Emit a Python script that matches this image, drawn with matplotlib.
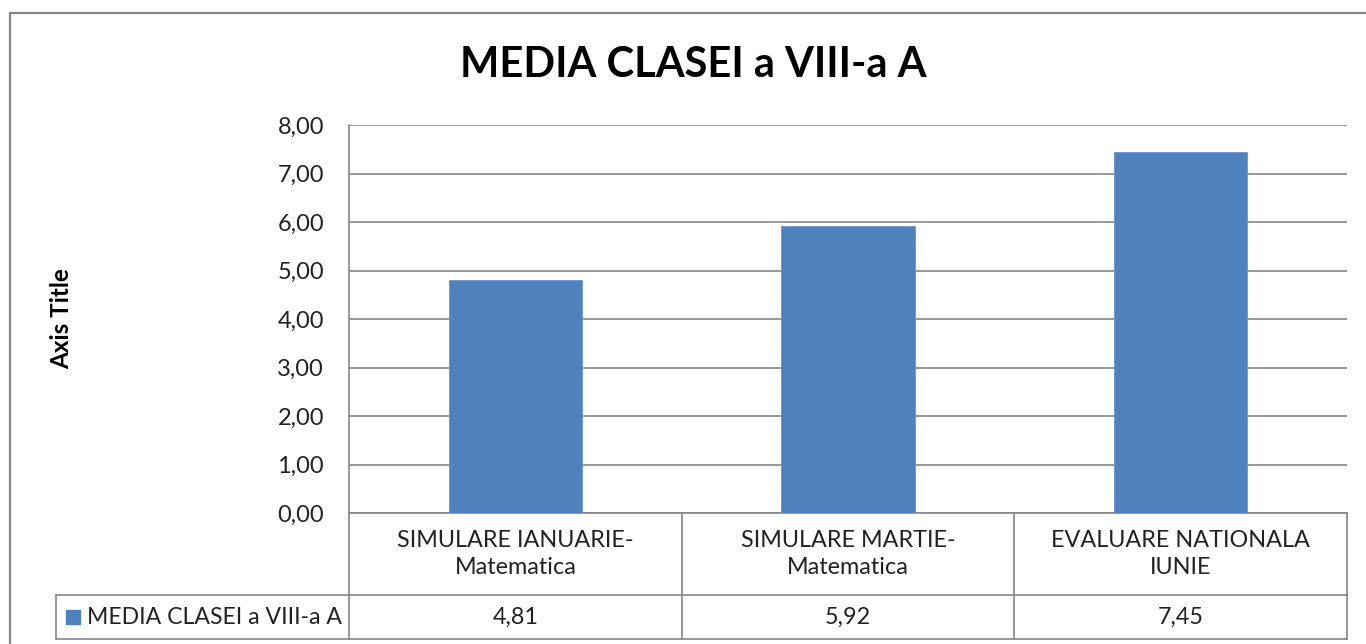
import matplotlib.pyplot as plt
from matplotlib.patches import Rectangle
from matplotlib.transforms import blended_transform_factory

# date
categorii = ["SIMULARE IANUARIE-\nMatematica", "SIMULARE MARTIE-\nMatematica", "EVALUARE NATIONALA\nIUNIE"]
medii = [4.81, 5.92, 7.45]
serie = "MEDIA CLASEI a VIII-a A"
titlu = "MEDIA CLASEI a VIII-a A"
y_ticks = [0, 1, 2, 3, 4, 5, 6, 7, 8]

culoare = "#4F81BD"
gri = "#868686"
W, H = 1366, 644

plt.rcParams['font.family'] = ['Lato', 'DejaVu Sans']

fig = plt.figure(figsize=(W / 100, H / 100), dpi=100)
fig.patch.set_facecolor("white")

# chenarul exterior
fig.add_artist(Rectangle((10 / W, -0.05), 1.2, 1 - 13 / H + 0.05, transform=fig.transFigure,
                         fill=False, edgecolor=gri, linewidth=1.6))

ax = fig.add_axes([349 / W, 1 - 513 / H, (1347 - 349) / W, (513 - 125) / H])
x = list(range(len(categorii)))
ax.bar(x, medii, width=0.4, color=culoare, edgecolor="#6A95CC", linewidth=0.6, zorder=3)
ax.set_xlim(-0.5, len(categorii) - 0.5)
ax.set_ylim(0, 8)
ax.set_yticks(y_ticks)
ax.set_yticklabels([f"{v:.2f}".replace(".", ",") for v in y_ticks], fontsize=17, color="#222222")
ax.tick_params(axis="y", length=0, pad=18)
ax.set_xticks([])
ax.yaxis.grid(True, color=gri, linewidth=1.2, zorder=0)
for s in ["top", "right", "bottom"]:
    ax.spines[s].set_visible(False)
ax.spines["left"].set_color(gri)
ax.spines["left"].set_linewidth(1.2)

ax.set_ylabel("Axis Title", fontsize=17.5, fontweight="bold", labelpad=0)
ax.yaxis.set_label_coords(-0.276, 0.5)

fig.suptitle(titlu, fontsize=30, fontweight="bold", x=693 / W, y=1 - 65 / H, va="center")

# tabelul de date
tr = blended_transform_factory(ax.transData, ax.transAxes)
h1 = 82 / 388
h2 = 44 / 388
left_leg = (56 - 349) / 998
kw = dict(color=gri, linewidth=1.2, clip_on=False, transform=ax.transAxes)
ax.plot([0, 1], [0, 0], **kw)
ax.plot([0, 1], [-h1, -h1], **kw)
ax.plot([left_leg, 0], [-h1, -h1], **kw)
ax.plot([left_leg, 1], [-h1 - h2, -h1 - h2], **kw)
ax.plot([left_leg, left_leg], [-h1, -h1 - h2], **kw)
ax.plot([1, 1], [0, -h1 - h2], **kw)
for b in [-0.5, 0.5, 1.5]:
    ax.plot([b, b], [0, -h1 - h2], color=gri, linewidth=1.2, clip_on=False, transform=tr)
for i, (c, v) in enumerate(zip(categorii, medii)):
    ax.text(i, -h1 / 2, c, transform=tr, ha="center", va="center", fontsize=16.8,
            color="#222222", linespacing=1.4)
    ax.text(i, -h1 - h2 / 2, f"{v:.2f}".replace(".", ","), transform=tr, ha="center",
            va="center", fontsize=16.8, color="#222222")

# cheia legendei
ax.add_patch(Rectangle((left_leg + 10 / 998, -h1 - h2 / 2 - 7 / 388), 14 / 998, 14 / 388,
                       transform=ax.transAxes, color=culoare, clip_on=False))
ax.text(left_leg + 31 / 998, -h1 - h2 / 2, serie, transform=ax.transAxes, ha="left",
        va="center", fontsize=16.6, color="#222222")

fig.savefig("out.png", dpi=100)
